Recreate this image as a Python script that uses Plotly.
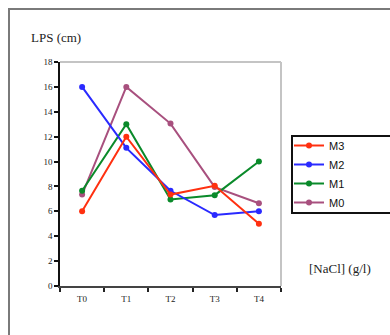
import plotly.graph_objects as go

# Measurement stages and series values (LPS in cm)
stages = ["T0", "T1", "T2", "T3", "T4"]
m0 = [7.35, 16.0, 13.05, 7.95, 6.65]
m1 = [7.65, 13.0, 6.95, 7.3, 10.0]
m2 = [16.0, 11.1, 7.65, 5.7, 6.0]
m3 = [6.0, 12.0, 7.35, 8.05, 5.0]

series = [
    ("M0", m0, "#a8507e"),
    ("M1", m1, "#0a8a2a"),
    ("M2", m2, "#2a2aff"),
    ("M3", m3, "#ff3010"),
]

W, H = 390, 335
L, R, T, B = 60, 109, 62, 49
pw, ph = W - L - R, H - T - B


def px_x(px):
    return (px - L) / pw


def px_y(py):
    return (H - B - py) / ph


fig = go.Figure()
for name, vals, color in series:
    fig.add_trace(go.Scatter(
        x=stages, y=vals, name=name, mode="lines+markers",
        line=dict(color=color, width=2),
        marker=dict(color=color, size=6),
    ))

serif = "Liberation Serif"

fig.update_layout(
    width=W, height=H,
    margin=dict(l=L, r=R, t=T, b=B),
    paper_bgcolor="white", plot_bgcolor="white",
    showlegend=True,
    legend=dict(
        x=px_x(289), y=px_y(131), xanchor="left", yanchor="top",
        traceorder="reversed", bgcolor="rgba(0,0,0,0)", borderwidth=0,
        font=dict(family="Liberation Sans", size=11, color="#111"),
        itemwidth=30,
    ),
    xaxis=dict(
        type="category", tickson="boundaries", ticks="outside", ticklen=4,
        tickcolor="#222", tickwidth=1.5,
        showline=True, linecolor="#444", linewidth=2,
        showgrid=False, zeroline=False,
        tickfont=dict(family=serif, size=9, color="#222"),
        ticklabelstandoff=3,
        range=[-0.5, 4.5],
    ),
    yaxis=dict(
        range=[0, 18], dtick=2, ticks="outside", ticklen=4,
        tickcolor="#111", tickwidth=1.5,
        showline=True, linecolor="#111", linewidth=1.5,
        showgrid=False, zeroline=False,
        tickfont=dict(family=serif, size=9, color="#222"),
    ),
    annotations=[
        dict(text="LPS (cm)", xref="paper", yref="paper",
             x=px_x(29), y=px_y(37), xanchor="left", yanchor="middle",
             showarrow=False, font=dict(family=serif, size=13, color="#222")),
        dict(text="[NaCl] (g/l)", xref="paper", yref="paper",
             x=px_x(307), y=px_y(268), xanchor="left", yanchor="middle",
             showarrow=False, font=dict(family=serif, size=13, color="#222")),
    ],
    shapes=[
        # outer frame
        dict(type="rect", xref="paper", yref="paper",
             x0=px_x(9), x1=px_x(420), y0=px_y(9), y1=px_y(360),
             line=dict(color="#7a7a7a", width=2), layer="below"),
        # plot area top and right edges
        dict(type="line", xref="paper", yref="paper",
             x0=0, x1=1, y0=1, y1=1, line=dict(color="#c4c4c4", width=2)),
        dict(type="line", xref="paper", yref="paper",
             x0=1, x1=1, y0=0, y1=1, line=dict(color="#c4c4c4", width=2)),
        # legend box
        dict(type="rect", xref="paper", yref="paper",
             x0=px_x(292), x1=px_x(420), y0=px_y(136), y1=px_y(213),
             line=dict(color="#111", width=2)),
    ],
)

fig.write_html("out.html")
